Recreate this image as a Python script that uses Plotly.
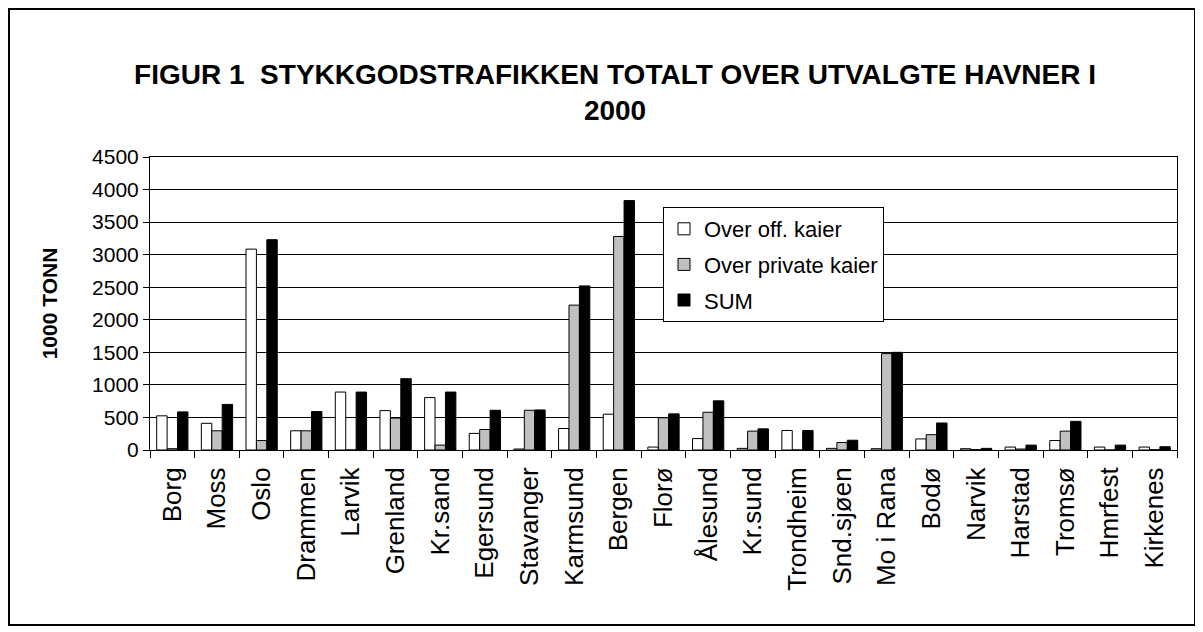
import plotly.graph_objects as go

# data (1000 tonn)
havner = ["Borg", "Moss", "Oslo", "Drammen", "Larvik", "Grenland", "Kr.sand",
          "Egersund", "Stavanger", "Karmsund", "Bergen", "Florø", "Ålesund",
          "Kr.sund", "Trondheim", "Snd.sjøen", "Mo i Rana", "Bodø", "Narvik",
          "Harstad", "Tromsø", "Hmrfest", "Kirkenes"]
off_kaier = [525, 410, 3085, 295, 890, 605, 805, 255, 15, 330, 550, 45, 175,
             25, 300, 25, 20, 170, 20, 45, 145, 45, 45]
private_kaier = [20, 295, 145, 295, 0, 490, 75, 315, 610, 2225, 3280, 495, 580,
                 290, 0, 115, 1480, 235, 5, 15, 290, 0, 5]
sum_kaier = [585, 700, 3230, 590, 890, 1095, 890, 610, 615, 2520, 3830, 555, 755,
             325, 300, 150, 1500, 415, 25, 75, 440, 75, 50]

# the page body has an 8px margin, so the figure is drawn 8px smaller
W, H = 1195, 624
L, R, T, B = 142, 26, 149, 182
pw = W - L - R
ph = H - T - B

fig = go.Figure()
for name, vals, col in [("Over off. kaier", off_kaier, "white"),
                        ("Over private kaier", private_kaier, "#c0c0c0"),
                        ("SUM", sum_kaier, "black")]:
    fig.add_trace(go.Bar(x=havner, y=vals, name=name, legendgroup=name,
                         marker=dict(color=col, line=dict(color="black", width=1))))

fig.update_layout(
    width=W, height=H,
    margin=dict(l=L, r=R, t=T, b=B),
    paper_bgcolor="white", plot_bgcolor="white",
    font=dict(family="Arial, Liberation Sans", color="black", size=20),
    barmode="group", bargap=0.3, bargroupgap=0,
    title=dict(text="<b>FIGUR 1  STYKKGODSTRAFIKKEN TOTALT OVER UTVALGTE HAVNER I<br>2000</b>",
               x=0.508, xanchor="center", y=1 - 76 / H, yanchor="top",
               font=dict(size=28, family="Arial, Liberation Sans")),
    legend=dict(x=(655 - L) / pw, y=1 - (199 - T) / ph, xanchor="left", yanchor="top",
                bgcolor="white", bordercolor="black", borderwidth=1,
                font=dict(size=22), itemwidth=30, tracegroupgap=4),
    xaxis=dict(showline=True, linecolor="black", linewidth=1, mirror=True,
               ticks="outside", tickson="boundaries", ticklen=7, tickcolor="black",
               tickangle=-90, tickfont=dict(size=26), ticklabelstandoff=6),
    yaxis=dict(range=[0, 4500], dtick=500, showline=True, linecolor="black",
               linewidth=1, mirror=True, ticks="outside", ticklen=6, tickcolor="black",
               gridcolor="black", gridwidth=1, tickfont=dict(size=21),
               title=dict(text="<b>1000 TONN</b>", font=dict(size=21), standoff=28)),
)

# outer frame round the whole chart
fig.add_shape(type="rect", xref="paper", yref="paper",
              x0=-(L - 1) / pw, x1=1 + (R - 8) / pw,
              y0=-(B - 7) / ph, y1=1 + (T - 1) / ph,
              line=dict(color="black", width=2))

fig.write_html("out.html")
